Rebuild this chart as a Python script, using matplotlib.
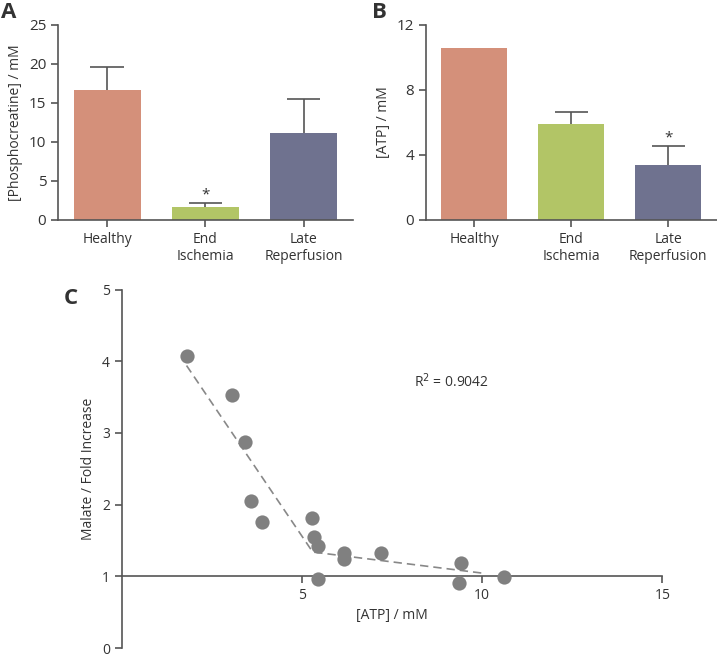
import matplotlib.pyplot as plt

plt.rcParams["font.family"] = ["Open Sans", "DejaVu Sans"]

# Donnees
groupes = ["Healthy", "End\nIschemia", "Late\nReperfusion"]
couleurs = ["#D4907A", "#B2C566", "#6F728F"]

pcr_moy = [16.6, 1.7, 11.2]
pcr_err = [3.0, 0.5, 4.3]

atp_moy = [10.57, 5.9, 3.41]
atp_err = [0.0, 0.74, 1.15]

# Panel C
atp_x = [1.81, 3.07, 3.42, 3.58, 3.90, 5.27, 5.34, 5.46, 5.46, 6.18, 6.18, 7.20, 9.42, 9.37, 10.6]
malate_y = [4.08, 3.53, 2.88, 2.05, 1.76, 1.82, 1.55, 1.42, 0.96, 1.32, 1.24, 1.33, 1.19, 0.91, 0.99]
fit_x = [1.8, 5.3, 10.1]
fit_y = [3.94, 1.34, 1.04]

gris_axe = "#555555"
gris_txt = "#333333"

fig = plt.figure(figsize=(7.17, 6.58), dpi=100)


def style_axe(ax):
    for s in ["top", "right"]:
        ax.spines[s].set_visible(False)
    for s in ["left", "bottom"]:
        ax.spines[s].set_color(gris_axe)
        ax.spines[s].set_linewidth(1.2)
    ax.tick_params(colors=gris_axe, labelcolor=gris_txt, labelsize=10, length=5, width=1.2)


def barres(ax, moy, err, etoile):
    x = list(range(len(groupes)))
    ax.bar(x, moy, width=0.68, color=couleurs)
    for i in x:
        if err[i] > 0:
            haut = moy[i] + err[i]
            ax.vlines(i, moy[i], haut, color=gris_axe, linewidth=1.2)
            ax.hlines(haut, i - 0.17, i + 0.17, color=gris_axe, linewidth=1.2)
    i = etoile
    ax.text(i, moy[i] + err[i], "*", ha="center", va="bottom", fontsize=11, color=gris_txt)
    ax.set_xticks(x)
    ax.set_xticklabels(groupes)
    ax.set_xlim(-0.5, 2.5)
    style_axe(ax)
    ax.tick_params(axis="y", labelsize=11)


# A
axA = fig.add_axes([0.081, 0.6657, 0.411, 0.2964])
barres(axA, pcr_moy, pcr_err, 1)
axA.set_ylim(0, 25)
axA.set_yticks([0, 5, 10, 15, 20, 25])
axA.set_ylabel("[Phosphocreatine] / mM", fontsize=10, color=gris_txt)
fig.text(0.001, 0.997, "A", fontsize=16, fontweight="bold", color=gris_txt, va="top")

# B
axB = fig.add_axes([0.5937, 0.6657, 0.406, 0.2964])
barres(axB, atp_moy, atp_err, 2)
axB.set_ylim(0, 12)
axB.set_yticks([0, 4, 8, 12])
axB.set_ylabel("[ATP] / mM", fontsize=10, color=gris_txt)
fig.text(0.519, 0.997, "B", fontsize=16, fontweight="bold", color=gris_txt, va="top")

# C
axC = fig.add_axes([0.1697, 0.015, 0.754, 0.545])
axC.plot(fit_x, fit_y, linestyle="--", color="#888888", linewidth=1.2, dashes=(5, 3))
axC.scatter(atp_x, malate_y, s=105, color="#808080", zorder=3, linewidths=0)
axC.set_xlim(0, 15)
axC.set_ylim(0, 5)
axC.spines["bottom"].set_position(("data", 1))
axC.set_xticks([5, 10, 15])
axC.set_yticks([0, 1, 2, 3, 4, 5])
style_axe(axC)
axC.set_xlabel("[ATP] / mM", fontsize=10, color=gris_txt)
axC.xaxis.set_label_coords(0.5, 0.09)
axC.xaxis.label.set_va("center")
axC.set_ylabel("Malate / Fold Increase", fontsize=10, color=gris_txt)
axC.text(8.1, 3.72, "R$^2$ = 0.9042", fontsize=10, color=gris_txt, va="center")
fig.text(0.089, 0.562, "C", fontsize=16, fontweight="bold", color=gris_txt, va="top")

fig.savefig("out.png", dpi=100)
